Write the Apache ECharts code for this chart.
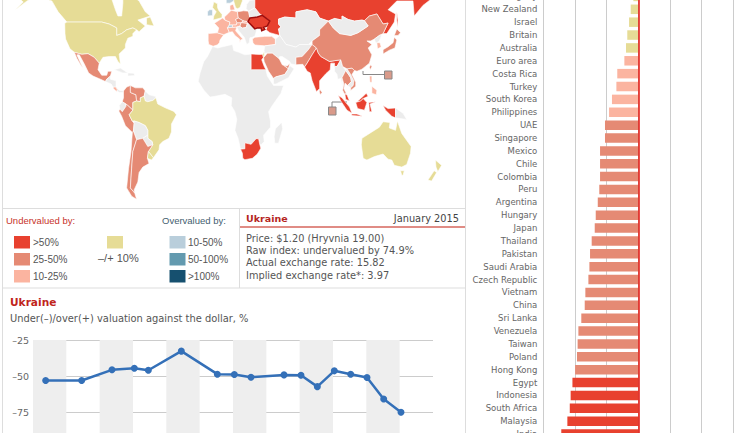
<!DOCTYPE html>
<html><head><meta charset="utf-8">
<style>html,body{margin:0;padding:0;background:#fff;overflow:hidden}#c{width:747px;height:433px}</style>
<script src="https://cdn.jsdelivr.net/npm/echarts@6/dist/echarts.min.js"></script>
</head><body><div id="c"></div>
<script>
const barCountries = ['Uruguay','New Zealand','Israel','Britain','Australia','Euro area','Costa Rica','Turkey','South Korea','Philippines','UAE','Singapore','Mexico','Chile','Colombia','Peru','Argentina','Hungary','Japan','Thailand','Pakistan','Saudi Arabia','Czech Republic','Vietnam','China','Sri Lanka','Venezuela','Taiwan','Poland','Hong Kong','Egypt','Indonesia','South Africa','Malaysia','India'];
const barValues = [-3.9,-6.0,-7.3,-8.7,-9.7,-11,-16.6,-17.3,-20.8,-23.1,-26.3,-26.3,-30.2,-30.2,-30.2,-30.8,-32,-33.6,-34.4,-36.8,-38.1,-38.6,-39.4,-41.8,-42.3,-45,-47.3,-47.9,-48.4,-49.9,-52,-53.4,-54.1,-56,-60.8];
const lineYears = [2004.38,2005.46,2006.37,2007.04,2007.46,2008.45,2009.53,2010.04,2010.54,2011.53,2012.04,2012.53,2013.04,2013.53,2014.02,2014.52,2015.04];
const lineValues = [-53,-53,-45.6,-44.5,-45.9,-32.7,-48.6,-48.8,-50.7,-49.1,-49.3,-57.2,-46.3,-48.6,-50.9,-65.8,-74.9];

const RED='#e8412f', SALMON='#e58a74', LIGHT='#fbb4a0', YEL='#e6dc96', GREY='#ececec', B1='#b9cedb', B2='#639aaf', B3='#16506f';

// rough country outlines, [lon, lat]
const mapShapes = [
['Alaska',YEL,[[[-165,62],[-158,58.5],[-165,54.8],[-155,59],[-150,60.5],[-141,60],[-135,59],[-131,55],[-134,59],[-141,62]]]],
['Canada',YEL,[[[-141,70],[-95,68],[-87,60],[-84,55],[-82,52],[-79,52],[-78,58],[-78,62],[-70,61],[-65,59],[-60,54],[-56,52],[-66,50],[-60,47],[-65,44],[-67,45],[-70,46],[-75,45],[-79,43],[-83,42],[-83,46],[-89,48],[-95,49],[-123,49],[-130,54],[-135,59],[-141,60]],[[-59,51],[-56,51.5],[-53,47],[-59,47.7]]]],
['USA',YEL,[[[-124.7,48.4],[-123,49],[-95,49],[-89,48],[-83,46],[-83,42],[-79,43],[-75,45],[-70,46],[-67,45],[-70,43],[-70,41.5],[-74,40.5],[-76,37],[-76,35],[-81,31.5],[-80,25.5],[-82,27],[-84,30],[-89,30],[-94,29.5],[-97,26],[-101,29.5],[-106,31.7],[-111,31.3],[-117,32.5],[-120.5,34.5],[-124,40],[-124.5,43]]]],
['Mexico',SALMON,[[[-117,32.5],[-111,31.3],[-106,31.7],[-101,29.5],[-97,26],[-98,22],[-95,18.5],[-91,18.5],[-90,21],[-87,21],[-88,18],[-91,16],[-92,14.5],[-96,16],[-102,18],[-105.5,20],[-109,25.5],[-113,31],[-115,31],[-112,26],[-110,23],[-112,25],[-115,29]]]],
['Central America',GREY,[[[-92,14.5],[-91,16],[-88,18],[-88,16],[-83.5,15],[-83.5,11],[-81,9],[-77.5,8.5],[-78,7.5],[-81,7.5],[-85,10],[-87.5,13]]]],
['Costa Rica',LIGHT,[[[-85.7,11],[-83.6,11],[-82.6,9.5],[-83,8],[-85.7,10]]]],
['Caribbean',GREY,[[[-85,22],[-80,23],[-74,20],[-78,20]],[[-74,20],[-69,19.7],[-68.5,18.3],[-74,18]]]],
['Colombia',SALMON,[[[-77.5,8.5],[-75,11],[-72,12],[-72,7.5],[-67.5,6],[-67,2],[-70,1],[-70,-4],[-74,-1],[-78.5,1.5],[-77.5,4]]]],
['Venezuela',SALMON,[[[-72,12],[-68,10.5],[-62,10.5],[-60,8.5],[-61,5],[-64,4],[-64,1.5],[-67,2],[-67.5,6],[-72,7.5]]]],
['Guianas',GREY,[[[-60,8.5],[-57,6],[-52,5],[-51.5,4],[-54,2.3],[-58,1.5],[-60,2],[-61,5]]]],
['Ecuador',GREY,[[[-78.5,1.5],[-75.5,0],[-75.5,-1.5],[-78.5,-5],[-80.3,-3.4],[-80.9,-1]]]],
['Peru',SALMON,[[[-81.3,-4.5],[-80.3,-3.4],[-78.5,-5],[-75.5,-1.5],[-75.5,0],[-74,-1],[-70,-4],[-73,-7],[-70.5,-11],[-69,-12.5],[-69.5,-17.5],[-70.4,-18.3],[-76,-14],[-79,-8]]]],
['Brazil',YEL,[[[-70,-4],[-70,1],[-67,2],[-64,1.5],[-64,4],[-61,5],[-60,2],[-58,1.5],[-54,2.3],[-51.5,4],[-50,0],[-44,-2.5],[-37,-4.8],[-35,-7],[-39,-13],[-39,-18],[-41,-22],[-46,-24],[-48.5,-26],[-49,-29],[-53.5,-33.7],[-57.5,-30],[-54,-26],[-54.5,-24],[-58,-22],[-58,-17],[-60,-14],[-65,-12],[-69,-11],[-70.5,-11],[-73,-7]]]],
['Bolivia',GREY,[[[-69,-11],[-65,-12],[-60,-14],[-58,-17],[-58,-20],[-62,-22],[-67,-22.8],[-69.5,-17.5],[-69,-12.5]]]],
['Paraguay',GREY,[[[-58,-20],[-58,-22],[-54.5,-24],[-54,-26],[-58,-27],[-62,-22]]]],
['Chile',SALMON,[[[-69.5,-17.5],[-67,-22.8],[-70,-30],[-71,-40],[-72,-50],[-68.5,-52.5],[-67,-55.5],[-71,-54],[-75,-50],[-73.5,-40],[-71.5,-30],[-70.4,-18.3]]]],
['Argentina',SALMON,[[[-67,-22.8],[-62,-22],[-58,-27],[-54,-26],[-57.5,-30],[-58.3,-34],[-57,-37],[-62,-39],[-65,-42],[-66,-47],[-69,-51],[-68.5,-52.5],[-72,-50],[-71,-40],[-70,-30]]]],
['Uruguay',YEL,[[[-57.5,-30],[-53.5,-33.7],[-55,-35],[-58.3,-34]]]],
['Africa',GREY,[[[-6,35.8],[-2,35],[10,37],[11,33.5],[15,32.5],[20,31],[25,31.5],[25,22],[36.9,22],[38,18],[43,12],[51,12],[49,7],[42,-1],[39,-5],[40.5,-11],[40.5,-15],[35,-20],[35.5,-24],[33,-26],[32,-26],[31,-22.3],[29,-22.2],[25,-25.7],[20,-24.8],[20,-28.4],[16.5,-28.6],[14.5,-22],[12,-17],[13.5,-10],[12,-5],[9,-1],[9.5,4],[4,6.3],[-4,5],[-8,4.5],[-13,9],[-17.5,14.7],[-16,20],[-13,27],[-10,30]],[[49.5,-12],[50.3,-16],[47,-25],[44,-25],[43.5,-21],[44.5,-16]]]],
['Egypt',RED,[[[25,31.5],[32,31.2],[34.3,31.3],[34.9,29.5],[33.5,28],[35.5,24],[36.9,22],[25,22]]]],
['South Africa',RED,[[[16.5,-28.6],[20,-28.4],[20,-24.8],[25,-25.7],[29,-22.2],[31,-22.3],[32,-26],[32.8,-28],[30,-31.5],[26,-34],[20,-34.8],[18.3,-34],[18,-31]]]],
['Iberia',LIGHT,[[[-9.5,43],[-2,43.4],[3,42.4],[0,39.5],[-0.5,38],[-2,36.8],[-5.5,36],[-9,37],[-9.5,39]]]],
['France',LIGHT,[[[-2,43.4],[-1,46],[-4.5,48.4],[2,51],[4,50],[8,49],[7.5,47.5],[6,46],[7.5,43.7],[3,42.4]]]],
['Germany',LIGHT,[[[4,50],[3.5,51.5],[7,53.5],[9,54.8],[14,54],[14.7,51],[12.5,50.3],[13.7,48.7],[13,47.5],[7.5,47.5],[8,49]]]],
['Switzerland',B1,[[[6,46],[7.5,47.5],[10,47.5],[10,46.3]]]],
['Italy',LIGHT,[[[7.5,43.7],[6,46],[10,46.3],[13.5,46.5],[12.5,44.5],[16,41.8],[18.4,40],[16.5,39.5],[16,38],[15.7,40],[12,42],[10,44]]]],
['Austria',LIGHT,[[[10,47.5],[13,47.5],[13.7,48.7],[17,48.7],[16,46.8],[13.5,46.5],[10,46.3]]]],
['Poland',SALMON,[[[14,54],[19,54.5],[23,54.3],[24,51],[22.5,49.2],[19,49.5],[14.7,51]]]],
['Czech Republic',SALMON,[[[12.5,50.3],[14.7,51],[18.8,49.6],[17,48.7],[13.7,48.7]]]],
['Slovakia',LIGHT,[[[17,48.7],[18.8,49.6],[19,49.5],[22.5,49.2],[22,48.3]]]],
['Hungary',SALMON,[[[16,46.8],[17,48.7],[22,48.3],[21,46.2],[18,45.9]]]],
['Balkans',GREY,[[[13.5,46.5],[16,46.8],[18,45.9],[21,46.2],[22,48.3],[24.5,47.9],[28,45.5],[29.5,45],[28,41.7],[26,41],[24,40.7],[23.5,38],[21.5,37],[19.5,41],[15,44.5]]]],
['Belarus',GREY,[[[23,54.3],[28,56],[32,53],[30,51.5],[24,51]]]],
['Baltics',GREY,[[[21,55.5],[21.5,57.5],[24,59.3],[28,59.5],[28,56],[23,54.3]]]],
['Britain',YEL,[[[-5.5,50],[1.5,51.2],[1.7,52.7],[-1,54.7],[-2,56],[-2,57.7],[-5,58.6],[-6,56],[-3,54],[-5,52]]]],
['Ireland',B1,[[[-10,52],[-6,52.2],[-6,55],[-8.5,55],[-10,54]]]],
['Denmark',LIGHT,[[[8,55],[8,57],[10.5,57.5],[12,55],[9,54.8]]]],
['Norway',B1,[[[5,58],[5,62],[12,62],[12,60],[11,59],[8,58]]]],
['Sweden',YEL,[[[11,59],[12,62],[18,62],[18,59],[16,56],[14,55.5],[12.5,56]]]],
['Finland',GREY,[[[21,60.3],[22,63],[30,63],[28,60.5]]]],
['Turkey',LIGHT,[[[26,40],[26.5,38],[28,36.7],[36,36.2],[44.5,37],[44.5,40],[41.5,41.5],[36,41.5],[31,41.2],[28,41]]]],
['Russia',RED,[[[28,59.5],[28,56],[32,53],[34,52.3],[40,49.6],[38,47],[37,45],[40,43.5],[48,42],[47,45.5],[49,46.5],[47,48],[47,50.5],[52,51.5],[61,51],[61,54],[70,55],[77,54],[80,51],[87,49.5],[92,50.8],[98,50],[98,52],[103,50.3],[108,49.5],[114,50],[116,49.7],[120,52],[126,53],[131,48],[135,48.5],[131,43],[134,43],[140,49],[141,53],[135,55],[142,59],[155,59],[156,52],[163,57],[170,60],[180,65],[180,70],[30,70]],[[142,54],[143,50],[142.5,46],[142,50]]]],
['Kazakhstan',GREY,[[[47,45.5],[48,42],[53,37],[61,35.5],[64,37],[71,37],[74,39],[80,42],[80,45],[87,49.5],[80,51],[77,54],[70,55],[61,54],[61,51],[52,51.5],[47,50.5],[47,48],[49,46.5]]]],
['Iran',GREY,[[[36,36.2],[44.5,37],[44.5,40],[48,42],[53,37],[61,35.5],[64,37],[71,37],[74,37],[71,34],[66,30],[61,29.5],[61,25],[57,25.5],[56,27],[50,30],[48,30],[47,29],[42,32],[38,32],[35,32]]]],
['Israel',YEL,[[[34.3,31.3],[35.7,33],[35.5,29.5],[34.9,29.5]]]],
['Saudi Arabia',SALMON,[[[35,29.3],[38,32],[42,32],[47,29],[48,28],[50,25],[51.5,24.5],[55,22.5],[52,19],[45,17.5],[43,16.5],[39,21],[35.5,27]]]],
['UAE',SALMON,[[[51.5,24.5],[54,24.2],[56,26],[55,22.5]]]],
['Oman',GREY,[[[43,16.5],[45,17.5],[52,19],[55,22.5],[56,24.5],[59.5,22.5],[55,17],[45,13],[43,13]]]],
['Pakistan',SALMON,[[[61,25],[61,29.5],[66,30],[71,34],[74,37],[77.5,35],[74,31],[70,26],[68,23.7],[66.5,25.3]]]],
['India',RED,[[[68,23.7],[70,26],[74,31],[77.5,35],[79,32],[81,30],[88,27],[92,27.5],[97,28],[94,24],[92,24],[92,26],[89,26],[88.5,22],[85,19.5],[80,15],[80,10],[77.5,8],[74,15],[72.5,20],[70,21]]]],
['Sri Lanka',SALMON,[[[80,9.7],[82,7.5],[80.5,6],[79.8,8]]]],
['Myanmar',GREY,[[[92,21],[92,24],[94,24],[97,28],[98.5,24],[101,21.5],[98,17],[98.5,10],[97,16.5],[94.5,16],[94,19]]]],
['Thailand',SALMON,[[[98,17],[101,21.5],[105,17],[105.5,14.5],[102.5,12],[100.5,13.5],[99.5,10],[101.5,6.8],[100,6.5],[98.5,9],[99.5,13]]]],
['Laos',GREY,[[[101,21.5],[102,22.5],[105,19],[107.5,15],[107,12],[105,10.5],[102.5,12],[105.5,14.5],[105,17]]]],
['Vietnam',SALMON,[[[102,22.5],[106,23],[108,21.5],[106,19],[109,14],[109,11.5],[105,8.8],[105,10.5],[107,12],[107.5,15],[105,19]]]],
['China',SALMON,[[[74,39],[80,42],[80,45],[87,49.5],[91,46],[96,43],[105,42],[111,43.5],[119,47],[116,49.7],[120,52],[126,53],[131,48],[135,48.5],[131,43],[128,42],[124,40],[121,39],[118,39],[122,37],[119,35],[122,31],[120,26],[114,22.3],[110,21],[108,21.5],[106,23],[102,22.5],[98.5,24],[97,28],[92,27.5],[88,27],[81,30],[79,32],[77.5,35],[74,37]],[[121,25],[122,24],[120.8,22],[120,23.5]]]],
['Mongolia',GREY,[[[87,49.5],[92,50.8],[98,50],[98,52],[103,50.3],[108,49.5],[114,50],[116,49.7],[119,47],[111,43.5],[105,42],[96,43],[91,46]]]],
['North Korea',GREY,[[[124,40],[128,42],[130,42.5],[128,39],[126,38],[125,38]]]],
['South Korea',LIGHT,[[[126,38],[128.5,38],[129.5,35.5],[126.5,34.5]]]],
['Japan',SALMON,[[[131,34],[135,35.7],[139,38],[140,41],[142,39.5],[140.5,35],[136,33.7],[131,31.5]],[[140,42],[142,45.5],[145,43.5],[143,42]]]],
['Philippines',LIGHT,[[[120,18],[122,18],[122,14],[120.5,14]],[[122,11.5],[126,9],[125.5,6],[122,7]]]],
['Malaysia',RED,[[[100.3,6.5],[102,6],[104,2],[101,3]],[[110,1.5],[115,5],[117.5,7],[119,5],[115,3.5],[113,2]]]],
['Indonesia',RED,[[[95,5.5],[98,4],[104,-2],[106,-6],[102,-4],[97,2]],[[105.5,-6.5],[110,-6.5],[114.5,-8],[106,-7.5]],[[109,1],[113,2],[115,3.5],[118,1],[116,-4],[110.5,-3]],[[119.5,1],[125,1.5],[120.5,0],[122,-5],[120,-5]],[[131,-1],[135,-3],[141,-2.6],[141,-9],[138,-8],[133,-4]]]],
['Papua New Guinea',GREY,[[[141,-2.6],[147,-6],[150,-10],[141,-9]]]],
['Australia',YEL,[[[114,-22],[113.5,-26],[115,-34],[118,-35],[124,-33],[131,-31.5],[135,-34.5],[138,-35],[140,-38],[146,-39],[150,-37.5],[153,-31],[153.5,-27],[146,-19],[142.5,-11],[141,-17],[136,-15.5],[136.5,-12],[131,-11.5],[128,-15],[122,-18]],[[145,-41],[148,-41],[147,-43.5],[146,-43.5]]]],
['New Zealand',YEL,[[[173,-35],[178,-38],[175,-41.5],[173.5,-39]],[[172,-41],[174,-42],[170,-46.5],[167,-46]]]],
['Ukraine',RED,[[[24,51],[30,51.5],[34,52.3],[40,49.6],[38,47],[35,46.3],[36,45.2],[33.5,44.5],[33,46],[30,46],[28,45.5],[24.5,47.9],[22.5,49.2]]]]
];

const geoJson = {type:'FeatureCollection',features:mapShapes.map(s=>({type:'Feature',properties:{name:s[0]},geometry:{type:'MultiPolygon',coordinates:s[2].map(r=>[r.concat([r[0]])])}}))};
echarts.registerMap('bigmac', geoJson);

const XS=1.245, YS=88, X0=220, Y0=104, D=Math.PI/180;
const miller=lat=>1.25*Math.log(Math.tan(Math.PI/4+0.4*lat*D));
const imiller=y=>(Math.atan(Math.exp(y/1.25))-Math.PI/4)/0.4/D;
const LAT_TOP=84, LAT_BOT=-60;
const mapTop=Y0-YS*miller(LAT_TOP), mapBot=Y0-YS*miller(LAT_BOT);

const T=(x,y,text,o)=>({type:'text',x,y,silent:true,style:Object.assign({text,fill:'#555',font:'10px "DejaVu Sans"',verticalAlign:'middle'},o||{})});
const R=(x,y,w,h,fill)=>({type:'rect',silent:true,shape:{x,y,width:w,height:h},style:{fill}});
const L=(x1,y1,x2,y2,c,w)=>({type:'line',silent:true,shape:{x1,y1,x2,y2},style:{stroke:c||'#ddd',lineWidth:w||1}});
const LG='10px "Liberation Sans"', LH='9.5px "Liberation Sans"', VD='9.8px "DejaVu Sans"';

const graphics=[
 L(2.5,0,2.5,433),L(465.5,0,465.5,433),L(2,208.5,466,208.5),L(2,288,466,288),L(239.5,208,239.5,288),
 L(240,227,465,227,'#d6665c',1.5),
 T(6,220,'Undervalued by:',{fill:'#c7332b',font:LH}),
 T(162,220,'Overvalued by:',{fill:'#44606f',font:LH}),
 R(14,236,16,12.5,RED),R(14,253,16,12.5,SALMON),R(14,270,16,12.5,LIGHT),
 T(33,242,'>50%',{font:LG}),T(33,259,'25-50%',{font:LG}),T(33,276,'10-25%',{font:LG}),
 R(107,236,16,12.5,YEL),T(98,258,'–/+ 10%',{font:'11px "Liberation Sans"'}),
 R(169.5,236,16,12.5,B1),R(169.5,253,16,12.5,B2),R(169.5,270,16,12.5,B3),
 T(188,242,'10-50%',{font:LG}),T(188,259,'50-100%',{font:LG}),T(188,276,'>100%',{font:LG}),
 T(246,218,'Ukraine',{fill:'#b5261e',font:'bold 9.5px "DejaVu Sans"'}),
 T(459,218,'January 2015',{fill:'#444',font:VD,align:'right'}),
 T(246,238,'Price: $1.20 (Hryvnia 19.00)',{font:VD}),
 T(246,250.5,'Raw index: undervalued by 74.9%',{font:VD}),
 T(246,262.5,'Actual exchange rate: 15.82',{font:VD}),
 T(246,275,'Implied exchange rate*: 3.97',{font:VD}),
 T(10,301.5,'Ukraine',{fill:'#c0251c',font:'bold 10.6px "DejaVu Sans"'}),
 T(10,318,'Under(–)/over(+) valuation against the dollar, %',{font:'9.9px "DejaVu Sans"'}),
 {type:'polyline',silent:true,shape:{points:[[363,71],[363,74.5],[384,74.5]]},style:{stroke:'#888',fill:null,lineWidth:1}},
 {type:'rect',silent:true,shape:{x:384.5,y:71,width:7.5,height:8},style:{fill:'#d99a8a',stroke:'#888',lineWidth:1}},
 {type:'polyline',silent:true,shape:{points:[[347,102],[332,102],[332,107]]},style:{stroke:'#888',fill:null,lineWidth:1}},
 {type:'rect',silent:true,shape:{x:328.5,y:107,width:7.5,height:8},style:{fill:'#d99a8a',stroke:'#888',lineWidth:1}}
];

const barColor=v=>v<=-50?RED:v<=-25?SALMON:v<=-10?LIGHT:YEL;
const ROW=12.87;
const option={
 animation:false,
 backgroundColor:'#fff',
 textStyle:{fontFamily:'"DejaVu Sans"'},
 geo:{map:'bigmac',roam:false,silent:true,left:0,top:mapTop,width:XS*374.3,height:mapBot-mapTop,
  projection:{project:p=>[p[0]*XS,-YS*miller(p[1])],unproject:p=>[p[0]/XS,imiller(-p[1]/YS)]},
  boundingCoords:[[-X0/XS,LAT_TOP],[-X0/XS+374.3,LAT_BOT]],
  label:{show:false},
  itemStyle:{borderColor:'#fff',borderWidth:0.6,areaColor:GREY},
  regions:mapShapes.map(s=>({name:s[0],silent:true,itemStyle:s[0]==='Ukraine'?{areaColor:s[1],borderColor:'#9c0d0d',borderWidth:1.5}:{areaColor:s[1]}}))
 },
 grid:[
  {left:543.3,width:190,top:-10,height:ROW*barCountries.length,outerBoundsMode:'none',containLabel:false},
  {left:33,width:400,top:340,height:108.6,outerBoundsMode:'none',containLabel:false}
 ],
 xAxis:[
  {gridIndex:0,type:'value',min:-75,max:75,interval:25,axisLabel:{show:false},axisLine:{show:false},axisTick:{show:false},splitLine:{lineStyle:{color:'#ccc',width:1}}},
  {gridIndex:1,type:'value',min:2004,max:2016,interval:1,axisLabel:{show:false},axisLine:{show:false},axisTick:{show:false},splitLine:{show:false},
   splitArea:{show:true,areaStyle:{color:['#eeeeee','rgba(255,255,255,0)']}}}
 ],
 yAxis:[
  {gridIndex:0,type:'category',inverse:true,data:barCountries,axisLine:{show:false},axisTick:{show:false},
   axisLabel:{color:'#666',fontSize:8.5,margin:6,fontFamily:'"DejaVu Sans"',interval:0}},
  {gridIndex:1,type:'value',min:-100,max:-25,interval:25,axisLine:{show:false},axisTick:{show:false},
   axisLabel:{color:'#666',fontSize:9.5,margin:4,showMinLabel:false,formatter:v=>v<=-100?'':String(v).replace('-','–')},splitLine:{lineStyle:{color:'#ccc'}}}
 ],
 series:[
  {type:'bar',xAxisIndex:0,yAxisIndex:0,barWidth:9.5,silent:true,
   data:barValues.map(v=>({value:v,itemStyle:{color:barColor(v)}})),
   markLine:{silent:true,symbol:'none',label:{show:false},lineStyle:{color:'#e3120b',width:1.5,type:'solid'},data:[{xAxis:0}]}},
  {type:'line',xAxisIndex:1,yAxisIndex:1,silent:true,data:lineYears.map((y,i)=>[y,lineValues[i]]),
   symbol:'circle',symbolSize:7,lineStyle:{color:'#3470b8',width:2.5},itemStyle:{color:'#3470b8'}}
 ],
 graphic:{elements:graphics}
};
const chart=echarts.init(document.getElementById('c'),null,{renderer:'svg',width:747,height:433});
chart.setOption(option);
</script></body></html>
